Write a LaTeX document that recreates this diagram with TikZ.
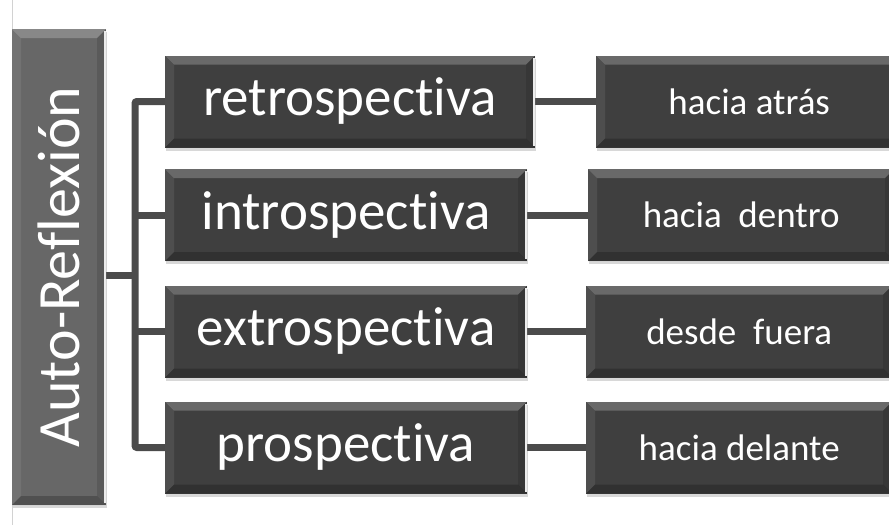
\documentclass[tikz,border=0pt]{standalone}
\usepackage{fontspec}
\setmainfont{Carlito}[Ligatures={NoCommon}]
\usetikzlibrary{shadows,backgrounds}
\pgfdeclarelayer{paper}
\pgfsetlayers{paper,background,main}
\definecolor{boxgray}{HTML}{3F3F3F}
\definecolor{rootgray}{HTML}{676767}
\definecolor{linegray}{HTML}{4B4B4B}
\tikzset{
  bevel/.style={path picture={
    \coordinate (nw) at (path picture bounding box.north west);
    \coordinate (ne) at (path picture bounding box.north east);
    \coordinate (sw) at (path picture bounding box.south west);
    \coordinate (se) at (path picture bounding box.south east);
    \fill[white,opacity=.22] (nw) -- (ne) -- ([xshift=-#1,yshift=-#1]ne) -- ([xshift=#1,yshift=-#1]nw) -- cycle;
    \fill[white,opacity=.08] (nw) -- ([xshift=#1,yshift=-#1]nw) -- ([xshift=#1,yshift=#1]sw) -- (sw) -- cycle;
    \fill[black,opacity=.22] (sw) -- (se) -- ([xshift=-#1,yshift=#1]se) -- ([xshift=#1,yshift=#1]sw) -- cycle;
    \fill[black,opacity=.12] (ne) -- (se) -- ([xshift=-#1,yshift=#1]se) -- ([xshift=-#1,yshift=-#1]ne) -- cycle;
    \draw[white!85!gray,line width=2pt] ([xshift=-1pt,yshift=-2pt]ne) -- ([xshift=-1pt,yshift=2pt]se);
  }},
  rootbox/.style={fill=rootgray,bevel=9pt,text=white,inner sep=0pt,
    minimum width=94pt,minimum height=476pt,
    drop shadow={shadow xshift=1pt,shadow yshift=-3pt,opacity=.3},
    font=\fontsize{60}{60}\selectfont},
  midbox/.style={fill=boxgray,bevel=9pt,text=white,inner sep=0pt,
    minimum width=362pt,minimum height=92pt,
    drop shadow={shadow xshift=1pt,shadow yshift=-3pt,opacity=.3},
    font=\fontsize{55}{55}\selectfont},
  leafbox/.style={fill=boxgray,bevel=9pt,text=white,inner sep=0pt,
    minimum width=306pt,minimum height=92pt,
    drop shadow={shadow xshift=1pt,shadow yshift=-3pt,opacity=.3},
    font=\fontsize{37}{37}\selectfont},
  conn/.style={draw=linegray,line width=7pt,rounded corners=2pt},
}
\begin{document}
\begin{tikzpicture}[x=1pt,y=-1pt]
\useasboundingbox (0,0) rectangle (889,525);
\clip (0,0) rectangle (889,525);
\begin{pgfonlayer}{paper}
\fill[white] (0,0) rectangle (889,525);
\draw[gray!35,line width=0.8pt] (12,0) -- (12,525);
\end{pgfonlayer}
% root and the four branches
\node[rootbox] (root) at (59,267) {\rotatebox{90}{Auto-Reflexión}};
\node[midbox,minimum width=370pt] (retro) at (350,101.5) {retrospectiva};
\node[midbox] (intro) at (346,215) {introspectiva};
\node[midbox] (extro) at (346,331.5) {extrospectiva};
\node[midbox] (pros) at (346,447.5) {prospectiva};
% leaves
\node[leafbox,anchor=west] (atras) at (596,101.5) {hacia atrás};
\node[leafbox,anchor=west] (dentro) at (588,215) {hacia\ \ dentro};
\node[leafbox,anchor=west] (fuera) at (586,331.5) {desde\ \ fuera};
\node[leafbox,anchor=west] (delante) at (586,447.5) {hacia delante};
% connectors
\coordinate (fork) at (135,275);
\begin{pgfonlayer}{background}
\draw[conn] (root.center |- fork) -- (fork);
\draw[conn] (retro.west) -| (fork) |- (pros.west);
\draw[conn] (intro.west) -- (intro.west -| fork);
\draw[conn] (extro.west) -- (extro.west -| fork);
\draw[conn] (retro) -- (atras);
\draw[conn] (intro) -- (dentro);
\draw[conn] (extro) -- (fuera);
\draw[conn] (pros) -- (delante);
\end{pgfonlayer}
\end{tikzpicture}
\end{document}
